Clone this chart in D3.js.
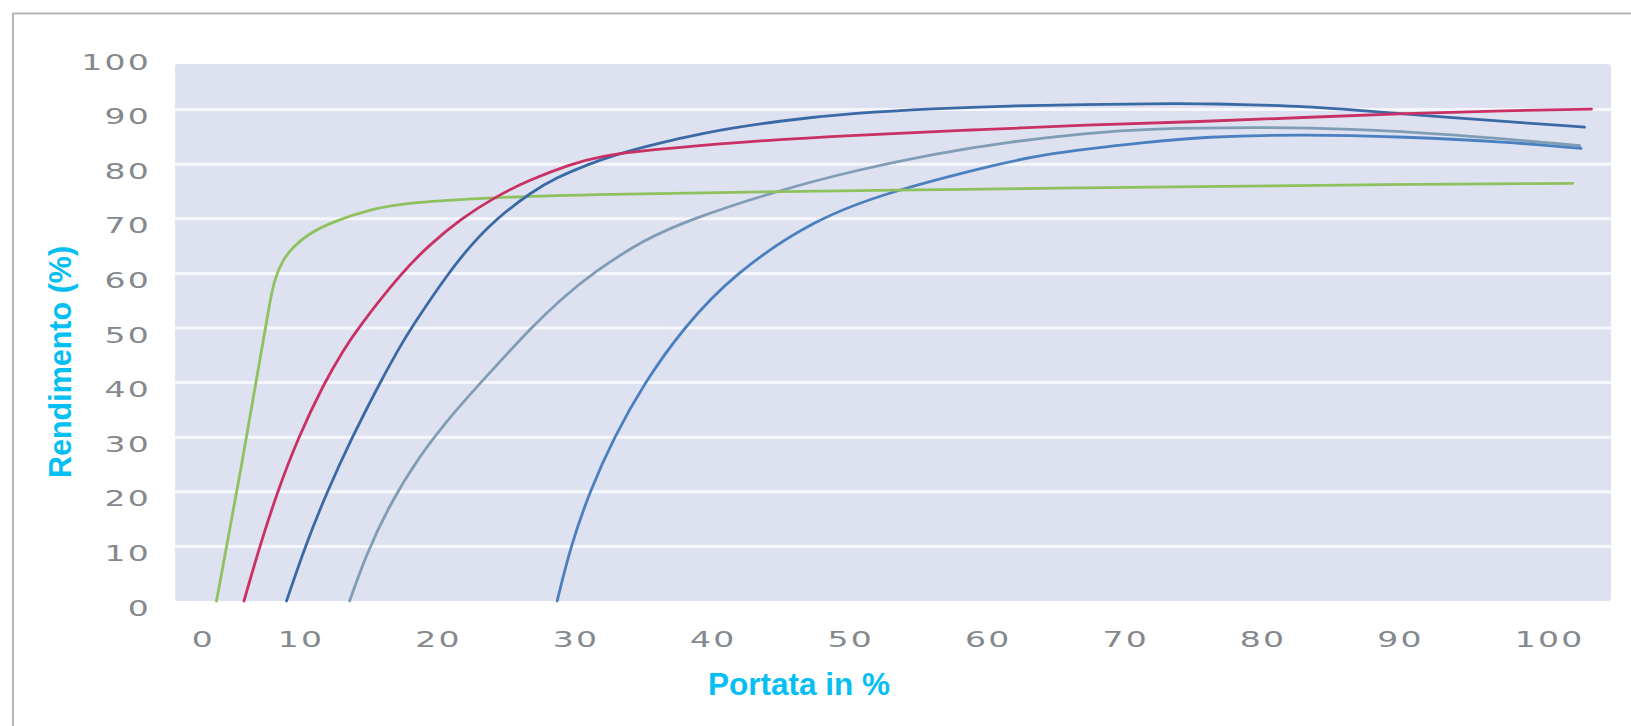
<!DOCTYPE html>
<html><head><meta charset="utf-8">
<script src="https://cdn.jsdelivr.net/npm/d3@7/dist/d3.min.js"></script>
<style>html,body{margin:0;padding:0;background:#fff;} svg{display:block}</style>
</head><body>
<svg id="chart" width="1631" height="726"></svg>
<script>
// ---- data ----
const xTicks = [0, 10, 20, 30, 40, 50, 60, 70, 80, 90, 100];
const yTicks = [0, 10, 20, 30, 40, 50, 60, 70, 80, 90, 100];
const xTitle = "Portata in %";
const yTitle = "Rendimento (%)";

const greenX = [2.67, 5.64, 8.31, 8.9, 9.48, 10.25, 10.98, 12.07, 13.82, 16.59, 19.5, 25.32, 33.33, 46.4, 60, 73.4, 87, 104.1];
const greenY = [0, 25, 49.6, 55, 59.2, 62.5, 64.8, 67.2, 69.4, 71.8, 73, 73.9, 74.5, 75, 75.4, 75.8, 76.2, 76.5];

const redX = [5.87, 7.5, 9.74, 11.37, 13.26, 14.66, 15.71, 18.84, 20.8, 23.2, 25.68, 28.08, 31.14, 33.43, 36.71, 43.59, 51.96, 60.33, 68.7, 77.07, 84.5, 91.92, 99.27, 105.46];
const redY = [0, 9, 20, 30, 40, 46, 50, 60, 65, 70, 74, 77, 80, 81.5, 82.6, 84.1, 85.35, 86.26, 87.2, 87.8, 88.55, 89.3, 89.8, 90.1];

const blueX = [10.51, 11.86, 13.46, 15.28, 17.31, 18.63, 19.57, 22.26, 23.86, 25.76, 28.38, 30.13, 32.45, 34.56, 36.67, 40.82, 46.43, 51.96, 57.57, 63.1, 68.7, 73.36, 77.07, 80.64, 84.5, 89.45, 94.4, 99.27, 104.95];
const blueY = [0, 10, 20, 30, 40, 46, 50, 60, 65, 70, 75, 77.5, 80, 81.8, 83.3, 85.8, 88.0, 89.4, 90.2, 90.7, 90.9, 91.1, 91.1, 90.9, 90.6, 89.7, 88.7, 87.8, 86.8];

const grayX = [15.1, 16.27, 17.87, 20.06, 22.75, 25.8, 28.3, 30.4, 32.8, 36.45, 39.87, 46.43, 51.96, 57.57, 63.1, 68.7, 73.36, 80.64, 87.92, 95.2, 104.6];
const grayY = [0, 8.24, 17, 26.2, 34.8, 43.2, 50, 55.1, 60.1, 66.1, 69.9, 75.3, 78.9, 81.9, 84.1, 85.7, 86.5, 86.8, 86.5, 85.5, 83.4];

const blue2X = [30.2, 31.18, 32.56, 34.34, 36.56, 39.37, 43.08, 48.97, 54.43, 62.22, 65.9, 73.36, 77.1, 84.5, 91.92, 99.27, 104.7];
const blue2Y = [0, 10, 20, 30, 40, 50, 60, 70, 75, 80, 82, 84.1, 85, 85.5, 85, 84.1, 82.9];

const seriesColors = ["#8fc25f", "#c93063", "#3a6aa5", "#809db6", "#4b80c0"];

// ---- chart ----
const svg = d3.select("#chart");
const x = d3.scaleLinear().domain([0, 10, 100]).range([193.5, 279.5, 1516.5]);
const y = d3.scaleLinear().domain([0, 100]).range([601, 55]);

// outer frame
svg.append("rect").attr("x", 13).attr("y", 13.5).attr("width", 1700).attr("height", 800)
  .attr("fill", "#fff").attr("stroke", "#b3b8b8").attr("stroke-width", 2);

// plot background
const plotL = 175, plotR = 1611, plotT = 64;
svg.append("rect").attr("x", plotL).attr("y", plotT).attr("width", plotR - plotL)
  .attr("height", y(0) - plotT).attr("rx", 3).attr("fill", "#dde1f0");

// gridlines
svg.append("g").selectAll("line").data(yTicks.filter(v => v > 0 && v < 100)).join("line")
  .attr("x1", plotL).attr("x2", plotR)
  .attr("y1", d => y(d)).attr("y2", d => y(d))
  .attr("stroke", "#f5f7fc").attr("stroke-width", 3);

// axes
const tickFont = g => g.selectAll("text")
  .attr("font-family", "'DejaVu Sans', sans-serif").attr("font-size", 22)
  .attr("fill", "#85898d").attr("letter-spacing", "1.5px");

const gx = svg.append("g").attr("transform", "translate(0,647)")
  .call(d3.axisBottom(x).tickValues(xTicks).tickSize(0).tickPadding(0).tickFormat(d3.format("d")));
gx.select(".domain").remove();
gx.call(tickFont);
gx.selectAll("text").attr("y", 0).attr("dy", 0).attr("x", -1.5)
  .attr("text-anchor", "start").attr("transform", "scale(1.5,1)");

const gy = svg.append("g").attr("transform", "translate(151,0)")
  .call(d3.axisLeft(y).tickValues(yTicks).tickSize(0).tickPadding(0).tickFormat(d3.format("d")));
gy.select(".domain").remove();
gy.call(tickFont);
gy.selectAll("text").attr("x", 0).attr("dy", 0).attr("y", 14)
  .attr("text-anchor", "end").attr("transform", "scale(1.5,1)");

// lines
const series = [
  [greenX, greenY], [redX, redY], [blueX, blueY], [grayX, grayY], [blue2X, blue2Y]
];
const line = d3.line().x(d => x(d[0])).y(d => y(d[1])).curve(d3.curveBasis);
const drawOrder = [3, 4, 0, 2, 1];
drawOrder.forEach(i => {
  const [xs, ys] = series[i];
  const pts = xs.map((v, j) => [v, ys[j]]);
  svg.append("path").datum(pts).attr("d", line)
    .attr("fill", "none").attr("stroke", seriesColors[i])
    .attr("stroke-width", 2.8).attr("stroke-linecap", "round").attr("stroke-linejoin", "round");
});

// titles
svg.append("text").attr("x", 799).attr("y", 695).attr("text-anchor", "middle")
  .attr("font-family", "'Liberation Sans', Arial, sans-serif").attr("font-weight", "bold")
  .attr("font-size", 31.5).attr("fill", "#05bff3").text(xTitle);

svg.append("text").attr("transform", "translate(71,362) rotate(-90)").attr("text-anchor", "middle")
  .attr("font-family", "'Liberation Sans', Arial, sans-serif").attr("font-weight", "bold")
  .attr("font-size", 30.5).attr("fill", "#05bff3").text(yTitle);
</script>
</body></html>
